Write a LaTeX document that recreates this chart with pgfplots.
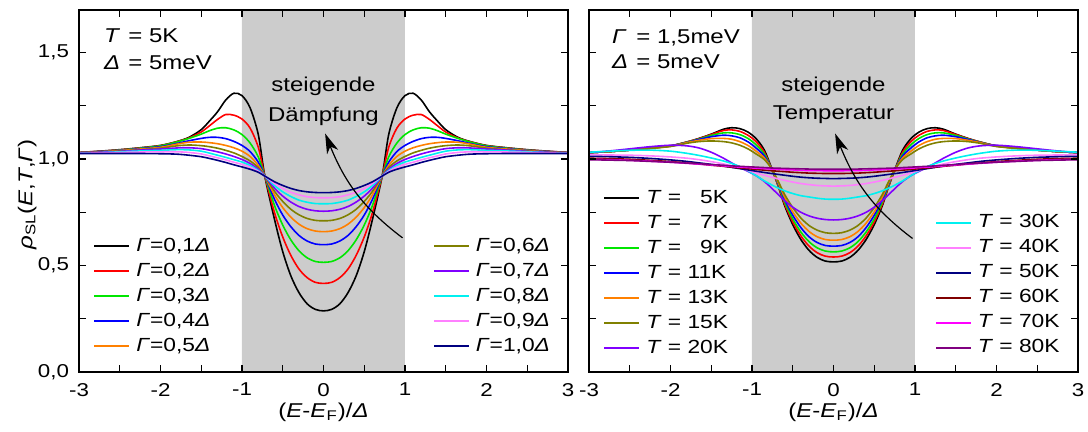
\documentclass[border=0pt]{standalone}
\usepackage{fontspec}
\setmainfont{Liberation Sans}[FakeStretch=1.2]
\usepackage{pgfplots}
\usepackage{pgfplotstable}
\pgfplotsset{compat=1.18}
\usetikzlibrary{arrows.meta}

\definecolor{cRed}{RGB}{255,0,0}
\definecolor{cGreen}{RGB}{0,230,0}
\definecolor{cBlue}{RGB}{0,0,255}
\definecolor{cOrange}{RGB}{255,128,0}
\definecolor{cOlive}{RGB}{128,128,0}
\definecolor{cViolet}{RGB}{128,0,255}
\definecolor{cCyan}{RGB}{0,240,240}
\definecolor{cPink}{RGB}{255,128,255}
\definecolor{cNavy}{RGB}{0,0,128}
\definecolor{cWine}{RGB}{128,0,0}
\definecolor{cMagenta}{RGB}{255,0,255}
\definecolor{cPurple}{RGB}{128,0,128}
\definecolor{band}{RGB}{204,204,204}

\pgfplotstableread{
x g1 g2 g3 g4 g5 g6 g7 g8 g9 g10
-3.00 1.031 1.031 1.030 1.030 1.030 1.029 1.029 1.028 1.027 1.026
-2.75 1.037 1.036 1.035 1.035 1.034 1.033 1.032 1.030 1.029 1.026
-2.50 1.044 1.043 1.042 1.041 1.040 1.038 1.036 1.034 1.031 1.026
-2.25 1.053 1.052 1.051 1.049 1.047 1.044 1.042 1.038 1.033 1.026
-2.00 1.064 1.063 1.062 1.058 1.055 1.051 1.047 1.041 1.034 1.025
-1.80 1.082 1.081 1.080 1.073 1.070 1.062 1.052 1.044 1.034 1.023
-1.65 1.102 1.099 1.097 1.086 1.079 1.066 1.053 1.043 1.031 1.018
-1.50 1.138 1.127 1.117 1.097 1.080 1.063 1.049 1.037 1.024 1.011
-1.40 1.178 1.156 1.133 1.102 1.077 1.058 1.042 1.028 1.015 1.003
-1.30 1.222 1.186 1.145 1.102 1.072 1.051 1.034 1.018 1.006 0.994
-1.20 1.277 1.209 1.147 1.096 1.064 1.041 1.024 1.008 0.996 0.984
-1.10 1.309 1.206 1.137 1.083 1.053 1.029 1.012 0.997 0.985 0.973
-1.00 1.298 1.188 1.115 1.064 1.037 1.012 0.998 0.986 0.975 0.963
-0.90 1.240 1.145 1.075 1.035 1.012 0.991 0.979 0.970 0.962 0.952
-0.80 1.115 1.055 1.010 0.985 0.970 0.960 0.952 0.946 0.942 0.938
-0.72 0.920 0.920 0.920 0.920 0.920 0.920 0.920 0.920 0.920 0.920
-0.60 0.715 0.747 0.781 0.810 0.831 0.848 0.863 0.875 0.885 0.893
-0.50 0.565 0.634 0.690 0.737 0.772 0.801 0.826 0.846 0.862 0.876
-0.40 0.451 0.547 0.620 0.682 0.727 0.764 0.798 0.824 0.844 0.862
-0.30 0.372 0.483 0.569 0.641 0.694 0.738 0.777 0.807 0.832 0.852
-0.20 0.320 0.443 0.536 0.615 0.673 0.721 0.764 0.797 0.823 0.846
-0.10 0.294 0.421 0.519 0.601 0.662 0.712 0.757 0.791 0.819 0.843
0.00 0.287 0.416 0.515 0.598 0.659 0.710 0.755 0.790 0.818 0.842
0.10 0.294 0.421 0.519 0.601 0.662 0.712 0.757 0.791 0.819 0.843
0.20 0.320 0.443 0.536 0.615 0.673 0.721 0.764 0.797 0.823 0.846
0.30 0.372 0.483 0.569 0.641 0.694 0.738 0.777 0.807 0.832 0.852
0.40 0.451 0.547 0.620 0.682 0.727 0.764 0.798 0.824 0.844 0.862
0.50 0.565 0.634 0.690 0.737 0.772 0.801 0.826 0.846 0.862 0.876
0.60 0.715 0.747 0.781 0.810 0.831 0.848 0.863 0.875 0.885 0.893
0.72 0.920 0.920 0.920 0.920 0.920 0.920 0.920 0.920 0.920 0.920
0.80 1.115 1.055 1.010 0.985 0.970 0.960 0.952 0.946 0.942 0.938
0.90 1.240 1.145 1.075 1.035 1.012 0.991 0.979 0.970 0.962 0.952
1.00 1.298 1.188 1.115 1.064 1.037 1.012 0.998 0.986 0.975 0.963
1.10 1.309 1.206 1.137 1.083 1.053 1.029 1.012 0.997 0.985 0.973
1.20 1.277 1.209 1.147 1.096 1.064 1.041 1.024 1.008 0.996 0.984
1.30 1.222 1.186 1.145 1.102 1.072 1.051 1.034 1.018 1.006 0.994
1.40 1.178 1.156 1.133 1.102 1.077 1.058 1.042 1.028 1.015 1.003
1.50 1.138 1.127 1.117 1.097 1.080 1.063 1.049 1.037 1.024 1.011
1.65 1.102 1.099 1.097 1.086 1.079 1.066 1.053 1.043 1.031 1.018
1.80 1.082 1.081 1.080 1.073 1.070 1.062 1.052 1.044 1.034 1.023
2.00 1.064 1.063 1.062 1.058 1.055 1.051 1.047 1.041 1.034 1.025
2.25 1.053 1.052 1.051 1.049 1.047 1.044 1.042 1.038 1.033 1.026
2.50 1.044 1.043 1.042 1.041 1.040 1.038 1.036 1.034 1.031 1.026
2.75 1.037 1.036 1.035 1.035 1.034 1.033 1.032 1.030 1.029 1.026
3.00 1.031 1.031 1.030 1.030 1.030 1.029 1.029 1.028 1.027 1.026
}\tabL

\pgfplotstableread{
x t5 t7 t9 t11 t13 t15 t20 t30 t40 t50 t60 t70 t80
-3.00 1.030 1.030 1.030 1.030 1.030 1.030 1.030 1.032 1.020 1.013 1.004 0.999 0.997
-2.75 1.035 1.035 1.035 1.035 1.035 1.035 1.038 1.037 1.019 1.011 1.002 0.997 0.995
-2.50 1.042 1.042 1.042 1.042 1.042 1.042 1.048 1.041 1.018 1.008 0.999 0.994 0.993
-2.25 1.051 1.051 1.051 1.051 1.050 1.050 1.058 1.042 1.015 1.003 0.994 0.990 0.989
-2.00 1.062 1.062 1.062 1.061 1.060 1.059 1.065 1.037 1.010 0.996 0.988 0.985 0.985
-1.80 1.080 1.080 1.079 1.078 1.077 1.074 1.062 1.027 1.004 0.989 0.982 0.980 0.981
-1.65 1.097 1.096 1.094 1.092 1.088 1.082 1.052 1.017 0.997 0.982 0.977 0.976 0.978
-1.50 1.117 1.115 1.111 1.105 1.096 1.085 1.032 1.005 0.988 0.975 0.971 0.972 0.974
-1.35 1.140 1.134 1.123 1.112 1.097 1.082 1.004 0.991 0.977 0.967 0.966 0.968 0.971
-1.25 1.147 1.137 1.123 1.109 1.093 1.076 0.982 0.979 0.968 0.961 0.962 0.965 0.968
-1.15 1.143 1.130 1.115 1.100 1.082 1.065 0.961 0.965 0.958 0.955 0.958 0.962 0.966
-1.05 1.127 1.112 1.097 1.081 1.064 1.048 0.942 0.945 0.947 0.949 0.955 0.960 0.964
-0.95 1.096 1.082 1.067 1.052 1.037 1.024 0.922 0.922 0.935 0.943 0.951 0.957 0.962
-0.85 1.043 1.033 1.024 1.015 1.006 0.998 0.895 0.898 0.924 0.937 0.948 0.955 0.960
-0.76 0.958 0.955 0.955 0.955 0.955 0.955 0.864 0.879 0.915 0.932 0.945 0.953 0.958
-0.68 0.875 0.876 0.881 0.886 0.891 0.897 0.834 0.864 0.907 0.928 0.943 0.952 0.957
-0.60 0.782 0.789 0.799 0.810 0.821 0.834 0.805 0.851 0.900 0.924 0.941 0.950 0.956
-0.50 0.692 0.705 0.719 0.736 0.752 0.772 0.774 0.838 0.892 0.919 0.938 0.949 0.955
-0.40 0.622 0.639 0.657 0.678 0.699 0.723 0.750 0.828 0.885 0.915 0.936 0.947 0.954
-0.30 0.571 0.591 0.612 0.635 0.660 0.688 0.733 0.822 0.880 0.912 0.934 0.946 0.953
-0.20 0.538 0.560 0.583 0.608 0.635 0.666 0.722 0.816 0.876 0.910 0.933 0.946 0.952
-0.10 0.521 0.544 0.568 0.594 0.622 0.654 0.716 0.812 0.874 0.909 0.932 0.945 0.952
0.00 0.517 0.540 0.564 0.591 0.619 0.651 0.714 0.811 0.873 0.908 0.932 0.945 0.952
0.10 0.521 0.544 0.568 0.594 0.622 0.654 0.716 0.812 0.874 0.909 0.932 0.945 0.952
0.20 0.538 0.560 0.583 0.608 0.635 0.666 0.722 0.816 0.876 0.910 0.933 0.946 0.952
0.30 0.571 0.591 0.612 0.635 0.660 0.688 0.733 0.822 0.880 0.912 0.934 0.946 0.953
0.40 0.622 0.639 0.657 0.678 0.699 0.723 0.750 0.828 0.885 0.915 0.936 0.947 0.954
0.50 0.692 0.705 0.719 0.736 0.752 0.772 0.774 0.838 0.892 0.919 0.938 0.949 0.955
0.60 0.782 0.789 0.799 0.810 0.821 0.834 0.805 0.851 0.900 0.924 0.941 0.950 0.956
0.68 0.875 0.876 0.881 0.886 0.891 0.897 0.834 0.864 0.907 0.928 0.943 0.952 0.957
0.76 0.958 0.955 0.955 0.955 0.955 0.955 0.864 0.879 0.915 0.932 0.945 0.953 0.958
0.85 1.043 1.033 1.024 1.015 1.006 0.998 0.895 0.898 0.924 0.937 0.948 0.955 0.960
0.95 1.096 1.082 1.067 1.052 1.037 1.024 0.922 0.922 0.935 0.943 0.951 0.957 0.962
1.05 1.127 1.112 1.097 1.081 1.064 1.048 0.942 0.945 0.947 0.949 0.955 0.960 0.964
1.15 1.143 1.130 1.115 1.100 1.082 1.065 0.961 0.965 0.958 0.955 0.958 0.962 0.966
1.25 1.147 1.137 1.123 1.109 1.093 1.076 0.982 0.979 0.968 0.961 0.962 0.965 0.968
1.35 1.140 1.134 1.123 1.112 1.097 1.082 1.004 0.991 0.977 0.967 0.966 0.968 0.971
1.50 1.117 1.115 1.111 1.105 1.096 1.085 1.032 1.005 0.988 0.975 0.971 0.972 0.974
1.65 1.097 1.096 1.094 1.092 1.088 1.082 1.052 1.017 0.997 0.982 0.977 0.976 0.978
1.80 1.080 1.080 1.079 1.078 1.077 1.074 1.062 1.027 1.004 0.989 0.982 0.980 0.981
2.00 1.062 1.062 1.062 1.061 1.060 1.059 1.065 1.037 1.010 0.996 0.988 0.985 0.985
2.25 1.051 1.051 1.051 1.051 1.050 1.050 1.058 1.042 1.015 1.003 0.994 0.990 0.989
2.50 1.042 1.042 1.042 1.042 1.042 1.042 1.048 1.041 1.018 1.008 0.999 0.994 0.993
2.75 1.035 1.035 1.035 1.035 1.035 1.035 1.038 1.037 1.019 1.011 1.002 0.997 0.995
3.00 1.030 1.030 1.030 1.030 1.030 1.030 1.030 1.032 1.020 1.013 1.004 0.999 0.997
}\tabR

\pgfplotsset{
  panel/.style={
    scale only axis, width=244.5pt, height=181pt,
    xmin=-3, xmax=3, ymin=0, ymax=1.7,
    xtick={-3,-2,...,3}, minor xtick={-2.5,-1.5,...,2.5},
    ytick={0,0.5,1,1.5}, minor ytick={0.25,0.75,1.25},
    tick align=inside, major tick length=3.5pt, minor tick length=3.5pt,
    every tick/.style={black, line width=0.6pt},
    axis line style={line width=0.75pt},
    axis on top,
    tick label style={font=\fontsize{9.3}{10}\selectfont},
    /pgf/number format/assume math mode=true,
    yticklabel style={/pgf/number format/.cd, fixed, fixed zerofill, precision=1, use comma, assume math mode=true, /tikz/.cd, xshift=-1.5pt},
    xticklabel style={yshift=-2pt},
    legend image code/.code={\draw[#1] (0pt,0pt) -- (17.5pt,0pt);},
    legend cell align=left,
  },
  leg/.style={
    legend style={draw=none, fill=none, inner sep=0pt, outer sep=0pt,
      font=\fontsize{9.5}{11}\selectfont, row sep=1.5pt,
      nodes={inner sep=1pt, text height=7pt, text depth=2pt},
      /tikz/column sep=2pt},
  },
  cur/.style={line width=0.8pt, smooth, no markers},
  xlab/.style={xlabel={(\textit{E}-\textit{E}\textsubscript{F})/\textit{Δ}},
    xlabel style={at={(axis description cs:0.5,0)}, anchor=center, yshift=-20pt, font=\fontsize{10}{12}\selectfont}},
}

\begin{document}
\begin{tikzpicture}
\useasboundingbox (-39.5pt,-30pt) rectangle (504.5pt,186pt);
% ---------- left panel ----------
\begin{axis}[panel, leg, xlab, at={(0,0)}, anchor=south west,
  ylabel={\textit{ρ}\textsubscript{SL}(\textit{E},\textit{T},\textit{Γ})},
  ylabel style={at={(axis description cs:-0.106,0.49)}, anchor=center, font=\fontsize{10}{12}\selectfont},
  legend style={at={(axis description cs:0.030,0.378)}, anchor=north west}]
\addplot[fill=band, draw=none, no markers, forget plot] coordinates {(-1,0) (-1,1.7) (1,1.7) (1,0)} \closedcycle;
\addplot[cur, black] table[x=x,y=g1] {\tabL}; \addlegendentry{\textit{Γ}=0,1\textit{Δ}}
\addplot[cur, cRed] table[x=x,y=g2] {\tabL}; \addlegendentry{\textit{Γ}=0,2\textit{Δ}}
\addplot[cur, cGreen] table[x=x,y=g3] {\tabL}; \addlegendentry{\textit{Γ}=0,3\textit{Δ}}
\addplot[cur, cBlue] table[x=x,y=g4] {\tabL}; \addlegendentry{\textit{Γ}=0,4\textit{Δ}}
\addplot[cur, cOrange] table[x=x,y=g5] {\tabL}; \addlegendentry{\textit{Γ}=0,5\textit{Δ}}
\addplot[cur, cOlive, forget plot] table[x=x,y=g6] {\tabL};
\addplot[cur, cViolet, forget plot] table[x=x,y=g7] {\tabL};
\addplot[cur, cCyan, forget plot] table[x=x,y=g8] {\tabL};
\addplot[cur, cPink, forget plot] table[x=x,y=g9] {\tabL};
\addplot[cur, cNavy, forget plot] table[x=x,y=g10] {\tabL};
\node[anchor=base west, font=\fontsize{10}{12}\selectfont] at (axis description cs:0.037,0.910) {\makebox[0.88em][l]{\textit{T}} = 5K};
\node[anchor=base west, font=\fontsize{10}{12}\selectfont] at (axis description cs:0.037,0.836) {\makebox[0.88em][l]{\textit{Δ}} = 5meV};
\node[anchor=base, font=\fontsize{10}{12}\selectfont] at (axis cs:0,1.317) {steigende};
\node[anchor=base, font=\fontsize{10}{12}\selectfont] at (axis cs:0,1.176) {Dämpfung};
\draw[line width=0.6pt, -{Stealth[length=10pt,width=6pt,inset=3pt]}] (axis cs:0.97,0.63) to[out=143,in=-68] (axis cs:0.02,1.12);
\end{axis}
\begin{axis}[panel, leg, hide axis, at={(0,0)}, anchor=south west,
  legend style={at={(axis description cs:0.7246,0.378)}, anchor=north west}]
\addlegendimage{cur, cOlive} \addlegendentry{\textit{Γ}=0,6\textit{Δ}}
\addlegendimage{cur, cViolet} \addlegendentry{\textit{Γ}=0,7\textit{Δ}}
\addlegendimage{cur, cCyan} \addlegendentry{\textit{Γ}=0,8\textit{Δ}}
\addlegendimage{cur, cPink} \addlegendentry{\textit{Γ}=0,9\textit{Δ}}
\addlegendimage{cur, cNavy} \addlegendentry{\textit{Γ}=1,0\textit{Δ}}
\end{axis}
% ---------- right panel ----------
\begin{axis}[panel, leg, xlab, at={(255pt,0)}, anchor=south west, yticklabels={},
  legend style={at={(axis description cs:0.030,0.511)}, anchor=north west}]
\addplot[fill=band, draw=none, no markers, forget plot] coordinates {(-1,0) (-1,1.7) (1,1.7) (1,0)} \closedcycle;
\addplot[cur, black] table[x=x,y=t5] {\tabR}; \addlegendentry{\textit{T} = \phantom{1}5K}
\addplot[cur, cRed] table[x=x,y=t7] {\tabR}; \addlegendentry{\textit{T} = \phantom{1}7K}
\addplot[cur, cGreen] table[x=x,y=t9] {\tabR}; \addlegendentry{\textit{T} = \phantom{1}9K}
\addplot[cur, cBlue] table[x=x,y=t11] {\tabR}; \addlegendentry{\textit{T} = 11K}
\addplot[cur, cOrange] table[x=x,y=t13] {\tabR}; \addlegendentry{\textit{T} = 13K}
\addplot[cur, cOlive] table[x=x,y=t15] {\tabR}; \addlegendentry{\textit{T} = 15K}
\addplot[cur, cViolet] table[x=x,y=t20] {\tabR}; \addlegendentry{\textit{T} = 20K}
\addplot[cur, cCyan, forget plot] table[x=x,y=t30] {\tabR};
\addplot[cur, cPink, forget plot] table[x=x,y=t40] {\tabR};
\addplot[cur, cNavy, forget plot] table[x=x,y=t50] {\tabR};
\addplot[cur, cWine, forget plot] table[x=x,y=t60] {\tabR};
\addplot[cur, cMagenta, forget plot] table[x=x,y=t70] {\tabR};
\addplot[cur, cPurple, forget plot] table[x=x,y=t80] {\tabR};
\node[anchor=base west, font=\fontsize{10}{12}\selectfont] at (axis description cs:0.033,0.908) {\makebox[0.88em][l]{\textit{Γ}} = 1,5meV};
\node[anchor=base west, font=\fontsize{10}{12}\selectfont] at (axis description cs:0.033,0.839) {\makebox[0.88em][l]{\textit{Δ}} = 5meV};
\node[anchor=base, font=\fontsize{10}{12}\selectfont] at (axis cs:0,1.317) {steigende};
\node[anchor=base, font=\fontsize{10}{12}\selectfont] at (axis cs:0,1.184) {Temperatur};
\draw[line width=0.6pt, -{Stealth[length=10pt,width=6pt,inset=3pt]}] (axis cs:0.97,0.627) to[out=143,in=-68] (axis cs:0.02,1.12);
\end{axis}
\begin{axis}[panel, leg, hide axis, at={(255pt,0)}, anchor=south west,
  legend style={at={(axis description cs:0.708,0.442)}, anchor=north west}]
\addlegendimage{cur, cCyan} \addlegendentry{\textit{T} = 30K}
\addlegendimage{cur, cPink} \addlegendentry{\textit{T} = 40K}
\addlegendimage{cur, cNavy} \addlegendentry{\textit{T} = 50K}
\addlegendimage{cur, cWine} \addlegendentry{\textit{T} = 60K}
\addlegendimage{cur, cMagenta} \addlegendentry{\textit{T} = 70K}
\addlegendimage{cur, cPurple} \addlegendentry{\textit{T} = 80K}
\end{axis}
\end{tikzpicture}
\end{document}
